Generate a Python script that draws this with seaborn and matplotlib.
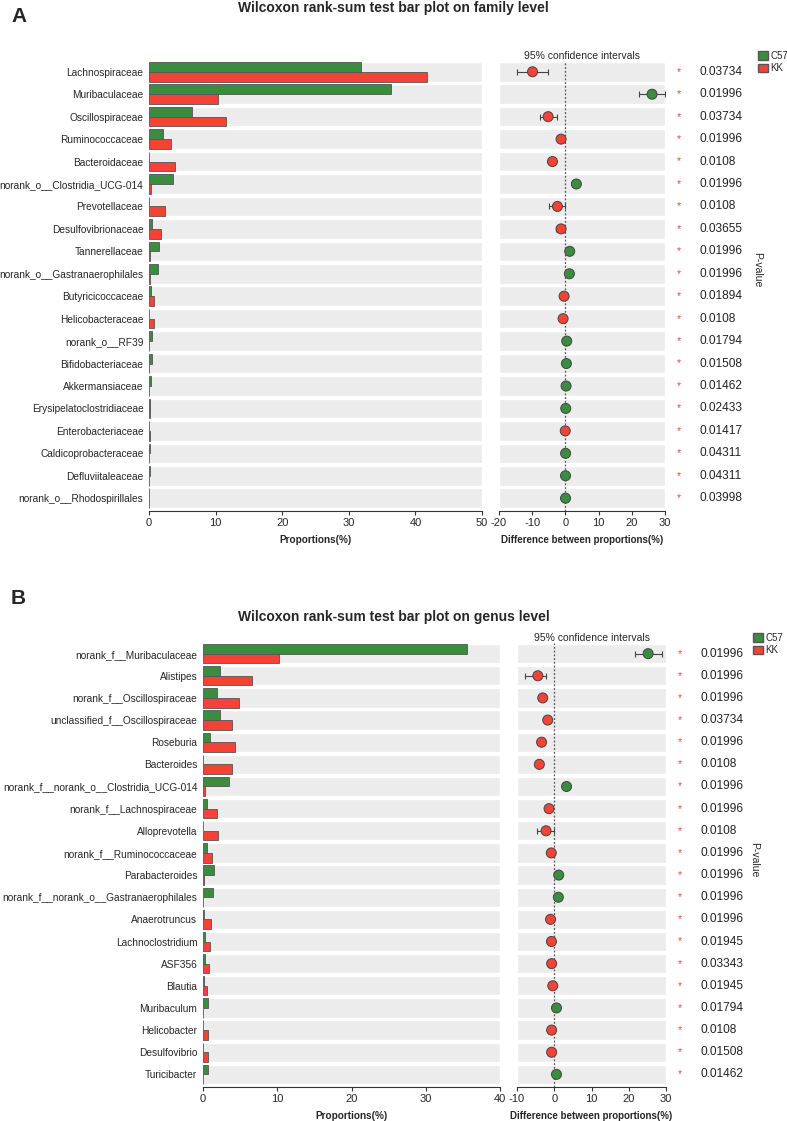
import numpy as np
import pandas as pd
import matplotlib
matplotlib.use("Agg")
import matplotlib.pyplot as plt
from matplotlib.patches import Patch
import seaborn as sns

# ---- family level data ----
fam_names = ["Lachnospiraceae", "Muribaculaceae", "Oscillospiraceae", "Ruminococcaceae",
             "Bacteroidaceae", "norank_o__Clostridia_UCG-014", "Prevotellaceae",
             "Desulfovibrionaceae", "Tannerellaceae", "norank_o__Gastranaerophilales",
             "Butyricicoccaceae", "Helicobacteraceae", "norank_o__RF39", "Bifidobacteriaceae",
             "Akkermansiaceae", "Erysipelatoclostridiaceae", "Enterobacteriaceae",
             "Caldicoprobacteraceae", "Defluviitaleaceae", "norank_o__Rhodospirillales"]
fam_c57 = [31.8, 36.3, 6.4, 2.05, 0.05, 3.6, 0.05, 0.5, 1.55, 1.35,
           0.3, 0.02, 0.45, 0.4, 0.25, 0.15, 0.05, 0.08, 0.08, 0.06]
fam_kk = [41.7, 10.3, 11.6, 3.25, 3.95, 0.3, 2.45, 1.8, 0.2, 0.15,
          0.75, 0.75, 0.02, 0.02, 0.02, 0.1, 0.1, 0.02, 0.05, 0.02]
fam_diff = [-9.9, 26.1, -5.2, -1.3, -3.9, 3.3, -2.4, -1.3, 1.3, 1.2,
            -0.4, -0.7, 0.4, 0.3, 0.2, 0.1, -0.05, 0.06, 0.03, 0.04]
fam_ci_low = [-14.7, 22.2, -7.6, -1.7, -4.3, 3.0, -4.8, -2.9, 1.1, 1.0,
              -0.5, -0.8, 0.3, 0.2, 0.15, 0.05, -0.1, 0.03, 0.01, 0.02]
fam_ci_high = [-5.1, 30.0, -2.4, -0.9, -3.5, 3.6, 0.0, -0.4, 1.5, 1.4,
               -0.3, -0.6, 0.5, 0.4, 0.25, 0.15, 0.0, 0.09, 0.05, 0.06]
fam_p = ["0.03734", "0.01996", "0.03734", "0.01996", "0.0108", "0.01996", "0.0108",
         "0.03655", "0.01996", "0.01996", "0.01894", "0.0108", "0.01794", "0.01508",
         "0.01462", "0.02433", "0.01417", "0.04311", "0.04311", "0.03998"]

# ---- genus level data ----
gen_names = ["norank_f__Muribaculaceae", "Alistipes", "norank_f__Oscillospiraceae",
             "unclassified_f__Oscillospiraceae", "Roseburia", "Bacteroides",
             "norank_f__norank_o__Clostridia_UCG-014", "norank_f__Lachnospiraceae",
             "Alloprevotella", "norank_f__Ruminococcaceae", "Parabacteroides",
             "norank_f__norank_o__Gastranaerophilales", "Anaerotruncus", "Lachnoclostridium",
             "ASF356", "Blautia", "Muribaculum", "Helicobacter", "Desulfovibrio", "Turicibacter"]
gen_c57 = [35.6, 2.25, 1.85, 2.35, 1.0, 0.05, 3.55, 0.55, 0.05, 0.6,
           1.5, 1.35, 0.15, 0.27, 0.22, 0.18, 0.72, 0.03, 0.05, 0.63]
gen_kk = [10.25, 6.55, 4.9, 3.95, 4.35, 3.85, 0.27, 1.85, 2.05, 1.25,
          0.1, 0.05, 1.1, 1.0, 0.8, 0.6, 0.03, 0.67, 0.63, 0.03]
gen_diff = [25.2, -4.4, -3.1, -1.75, -3.4, -4.0, 3.3, -1.4, -2.2, -0.8,
            1.2, 1.1, -1.0, -0.75, -0.7, -0.4, 0.6, -0.7, -0.7, 0.6]
gen_ci_low = [21.7, -7.8, -3.5, -2.1, -3.8, -4.5, 3.0, -1.7, -4.5, -1.0,
              1.0, 0.9, -1.2, -0.9, -0.85, -0.55, 0.5, -0.8, -0.8, 0.5]
gen_ci_high = [29.0, -2.1, -2.7, -1.4, -3.0, -3.5, 3.6, -1.1, 0.0, -0.6,
               1.4, 1.3, -0.8, -0.6, -0.55, -0.25, 0.7, -0.6, -0.6, 0.7]
gen_p = ["0.01996", "0.01996", "0.01996", "0.03734", "0.01996", "0.0108", "0.01996",
         "0.01996", "0.0108", "0.01996", "0.01996", "0.01996", "0.01996", "0.01945",
         "0.03343", "0.01945", "0.01794", "0.0108", "0.01508", "0.01462"]

GREEN = "#3a8c3f"
RED = "#f44336"
BAND = "#ececec"
EDGE = "#555555"

sns.set_theme(style="white")
plt.rcParams["font.family"] = ["Liberation Sans", "DejaVu Sans"]
plt.rcParams["axes.unicode_minus"] = False

W, H = 787, 1121
fig = plt.figure(figsize=(W / 100, H / 100), dpi=100)


def rect(l, t, r, b):
    return [l / W, 1 - b / H, (r - l) / W, (b - t) / H]


def style_axis(ax):
    for s in ["top", "right", "left"]:
        ax.spines[s].set_visible(False)
    ax.spines["bottom"].set_color("#333333")
    ax.spines["bottom"].set_linewidth(0.8)
    ax.tick_params(axis="x", bottom=True, length=3, width=0.8, color="#333333",
                   labelsize=8, pad=2)
    ax.tick_params(axis="y", left=False, length=0, labelsize=7.3, pad=4)
    ax.set_ylabel("")


def draw_panel(names, c57, kk, diff, lo, hi, pvals, bar_box, dot_box, bar_max,
               dot_lim, dot_ticks, title, title_y, letter, letter_y, pval_x, pval_y):
    n = len(names)
    df = pd.DataFrame({
        "Taxon": names * 2,
        "Proportion": c57 + kk,
        "Group": ["C57"] * n + ["KK"] * n,
    })

    # bar panel
    axb = fig.add_axes(rect(*bar_box))
    axb.barh(np.arange(n), bar_max, height=0.87, left=0, color=BAND, zorder=0)
    sns.barplot(data=df, y="Taxon", x="Proportion", hue="Group", orient="h",
                palette={"C57": GREEN, "KK": RED}, width=0.87, saturation=1,
                edgecolor=EDGE, linewidth=0.6, legend=False, ax=axb, zorder=2)
    axb.set_xlim(0, bar_max)
    axb.set_ylim(n - 0.43, -0.48)
    axb.set_xticks(np.arange(0, bar_max + 1, 10))
    style_axis(axb)
    axb.set_xlabel("Proportions(%)", fontsize=7.2, fontweight="bold", labelpad=5)

    # difference panel
    axd = fig.add_axes(rect(*dot_box))
    axd.barh(np.arange(n), dot_lim[1] - dot_lim[0], height=0.87, left=dot_lim[0],
             color=BAND, zorder=0)
    axd.axvline(0, color="#555555", linestyle=(0, (1.5, 1.5)), linewidth=0.9, zorder=1)
    diff_a = np.array(diff)
    err = np.vstack([diff_a - np.array(lo), np.array(hi) - diff_a])
    axd.errorbar(diff_a, np.arange(n), xerr=err, fmt="none", ecolor="#444444",
                 elinewidth=0.8, capsize=2, capthick=0.8, zorder=2)
    ddf = pd.DataFrame({"Diff": diff, "Row": np.arange(n),
                        "Group": ["C57" if d > 0 else "KK" for d in diff]})
    sns.scatterplot(data=ddf, x="Diff", y="Row", hue="Group",
                    palette={"C57": GREEN, "KK": RED}, s=52, edgecolor="#444444",
                    linewidth=0.7, legend=False, ax=axd, zorder=3)
    axd.set_xlim(*dot_lim)
    axd.set_ylim(n - 0.43, -0.48)
    axd.set_xticks(dot_ticks)
    axd.set_yticks([])
    style_axis(axd)
    axd.set_xlabel("Difference between proportions(%)", fontsize=7.0,
                   fontweight="bold", labelpad=5)
    axd.text(0.5, 1.0, "95% confidence intervals", transform=axd.transAxes,
             ha="center", va="bottom", fontsize=7.5)

    # p-values
    for i, p in enumerate(pvals):
        axd.annotate("*", xy=(1, i), xycoords=("axes fraction", "data"),
                     xytext=(10, 0), textcoords="offset points", color=RED,
                     fontsize=7.5, ha="center", va="center")
        axd.annotate(p, xy=(1, i), xycoords=("axes fraction", "data"),
                     xytext=(25, 0), textcoords="offset points", color="#222222",
                     fontsize=8.6, ha="left", va="center")
    fig.text(pval_x / W, 1 - pval_y / H, "P-value", rotation=270,
             ha="center", va="center", fontsize=7.5)

    fig.text(0.5, 1 - title_y / H, title, ha="center", va="center", fontsize=10,
             fontweight="bold")
    fig.text(11 / W, 1 - letter_y / H, letter, ha="left", va="center", fontsize=15,
             fontweight="bold")
    return axd


axd1 = draw_panel(fam_names, fam_c57, fam_kk, fam_diff, fam_ci_low, fam_ci_high, fam_p,
                  (149, 61, 482, 511), (499, 61, 665, 511), 50, (-20, 30),
                  [-20, -10, 0, 10, 20, 30],
                  "Wilcoxon rank-sum test bar plot on family level", 8, "A", 16, 757, 270)
axd2 = draw_panel(gen_names, gen_c57, gen_kk, gen_diff, gen_ci_low, gen_ci_high, gen_p,
                  (203, 643, 500, 1087), (517, 643, 666, 1087), 40, (-10, 30),
                  [-10, 0, 10, 20, 30],
                  "Wilcoxon rank-sum test bar plot on genus level", 617, "B", 599, 754, 860)

handles = [Patch(facecolor=GREEN, edgecolor=EDGE, label="C57"),
           Patch(facecolor=RED, edgecolor=EDGE, label="KK")]
for lx, ly in ((758, 51), (753, 633)):
    fig.legend(handles=handles, loc="upper left",
               bbox_to_anchor=(lx / W, 1 - ly / H),
               frameon=False, fontsize=7, handlelength=1.0, handleheight=1.0,
               handletextpad=0.3, labelspacing=0.25, borderpad=0, borderaxespad=0)

fig.savefig("out.png", dpi=100)
